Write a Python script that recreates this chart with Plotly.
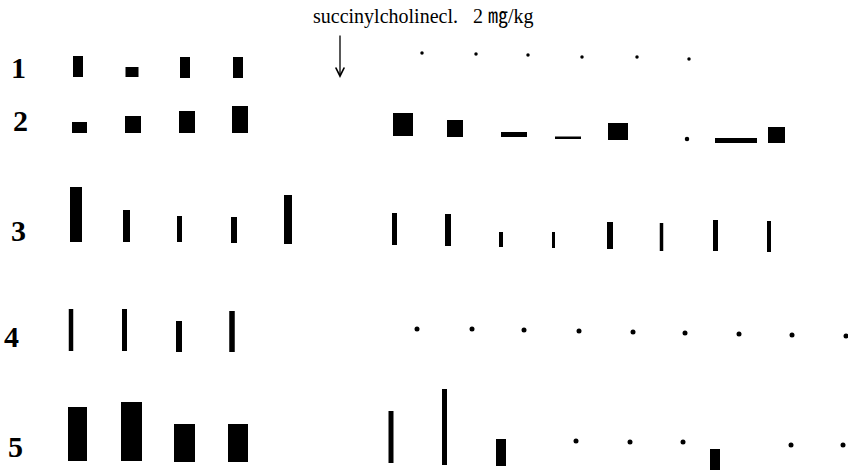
import plotly.graph_objects as go

# Twitch recordings, five traces. t = time position of each stimulus (arbitrary time units),
# base = baseline level of the recording at that stimulus, amp = twitch amplitude (0 = no response)
row_labels = ["1", "2", "3", "4", "5"]

row1_t = [78, 132, 185, 238, 422, 476, 528, 582, 637, 689]
row1_base = [77, 77, 78, 78, 53, 54, 55, 57, 57, 59]
row1_amp = [21, 10, 21, 21, 0, 0, 0, 0, 0, 0]
row1_w = [10, 13, 10, 10, 0, 0, 0, 0, 0, 0]

row2_t = [79.5, 133, 187, 240, 403, 455, 514, 568, 618, 687, 736, 776.5]
row2_base = [133, 133, 133, 133, 136, 137, 137, 139, 140, 139, 143, 143]
row2_amp = [11, 17, 22, 27, 23, 17, 5, 2.5, 17, 0, 5, 16]
row2_w = [15, 16, 16, 16, 20, 16, 26, 26, 20, 0, 42, 17]

row3_t = [76, 126.5, 179.5, 234, 288, 394.5, 448, 501, 553.5, 610, 661.5, 715.5, 769]
row3_base = [242, 242, 242, 243, 244, 245, 246, 247, 248, 249, 251, 251, 252]
row3_amp = [55, 32, 26, 26, 49, 32, 32, 15, 16, 27, 28, 31, 31]
row3_w = [12, 7, 5, 6, 8, 5, 6, 4, 3, 6, 3.5, 5, 4]

row4_t = [71, 124.5, 179, 232, 417, 472, 524, 579, 633, 685, 739, 792, 846]
row4_base = [351, 351, 352, 352, 329, 329, 330, 331, 332, 333, 334, 335, 336]
row4_amp = [42, 42, 31, 41, 0, 0, 0, 0, 0, 0, 0, 0, 0]
row4_w = [4.5, 5, 6, 5.5, 0, 0, 0, 0, 0, 0, 0, 0, 0]

row5_t = [77.5, 131.5, 184.5, 238, 391, 444.5, 501, 576, 630, 683, 715, 791, 843]
row5_base = [461, 461, 462, 462, 463, 465, 466, 441, 442, 442, 470, 445, 445]
row5_amp = [54, 59, 38, 38, 52, 76, 27, 0, 0, 0, 21, 0, 0]
row5_w = [19, 21, 21, 20, 5, 5, 10, 0, 0, 0, 10, 0, 0]

rows = [
    (row1_t, row1_base, row1_amp, row1_w),
    (row2_t, row2_base, row2_amp, row2_w),
    (row3_t, row3_base, row3_amp, row3_w),
    (row4_t, row4_base, row4_amp, row4_w),
    (row5_t, row5_base, row5_amp, row5_w),
]
dot_sizes = [3.5, 4.5, 4.5, 5, 5]

title_text = "succinylcholinecl.&nbsp;&nbsp; 2 ㎎/kg"
injection_t = 340

fig = go.Figure()

for (t, base, amp, w), ds in zip(rows, dot_sizes):
    bt = [x for x, a in zip(t, amp) if a > 0]
    bb = [b for b, a in zip(base, amp) if a > 0]
    ba = [-a for a in amp if a > 0]
    bw = [ww for ww, a in zip(w, amp) if a > 0]
    fig.add_trace(go.Bar(x=bt, y=ba, base=bb, width=bw,
                         marker=dict(color="black", line=dict(width=0)),
                         showlegend=False, hoverinfo="skip"))
    dt = [x for x, a in zip(t, amp) if a == 0]
    db = [b for b, a in zip(base, amp) if a == 0]
    if dt:
        fig.add_trace(go.Scatter(x=dt, y=db, mode="markers",
                                 marker=dict(color="black", size=ds),
                                 showlegend=False, hoverinfo="skip"))

label_pos = [(18, 67), (20, 120), (18, 230), (11, 336), (15, 446)]
for lab, (lx, ly) in zip(row_labels, label_pos):
    fig.add_annotation(x=lx, y=ly, text="<b>" + lab + "</b>", showarrow=False,
                       font=dict(family="Liberation Serif", size=30, color="black"),
                       xanchor="center", yanchor="middle")

fig.add_annotation(x=423, y=16, text=title_text, showarrow=False,
                   font=dict(family="Liberation Serif, Noto Sans CJK KR", size=20, color="black"),
                   xanchor="center", yanchor="middle")

fig.add_annotation(x=injection_t, y=78, ax=injection_t, ay=34, axref="x", ayref="y",
                   text="", showarrow=True, arrowhead=5, arrowsize=1.3, arrowwidth=1.3,
                   arrowcolor="black")

fig.update_layout(
    width=848, height=474,
    margin=dict(l=0, r=0, t=0, b=0),
    paper_bgcolor="white", plot_bgcolor="white",
    barmode="overlay",
    xaxis=dict(range=[0, 848], visible=False, fixedrange=True),
    yaxis=dict(range=[474, 0], visible=False, fixedrange=True),
)

fig.write_html("out.html", config={"displayModeBar": False},
               post_script="document.body.style.margin='0';document.body.style.overflow='hidden';")
